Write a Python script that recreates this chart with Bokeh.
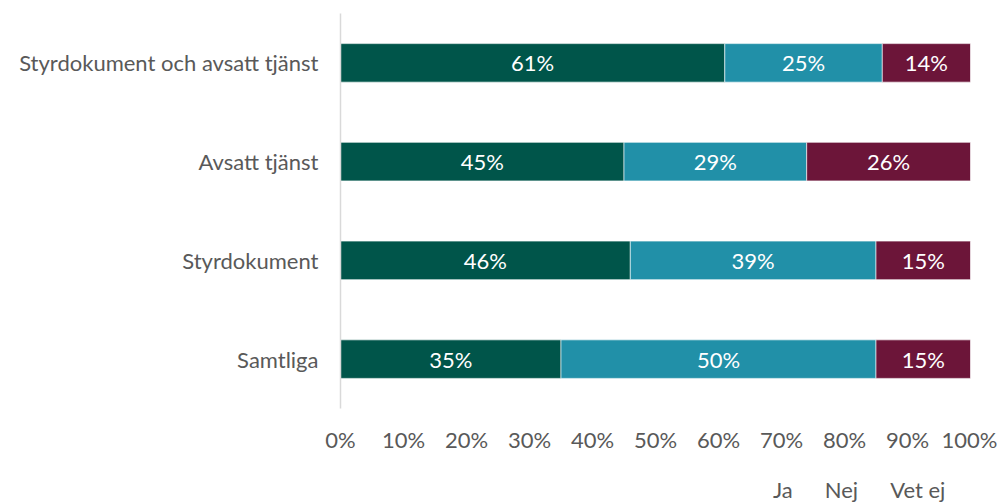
from bokeh.plotting import figure
from bokeh.layouts import column
from bokeh.models import (ColumnDataSource, FactorRange, Range1d, Legend, LegendItem,
                          PrintfTickFormatter, FixedTicker, LabelSet)
from bokeh.core.properties import value
from bokeh.embed import file_html
from bokeh.resources import INLINE

categories = ["Styrdokument och avsatt tjänst", "Avsatt tjänst", "Styrdokument", "Samtliga"]
ja = [61, 45, 46, 35]
nej = [25, 29, 39, 50]
vet_ej = [14, 26, 15, 15]
series_names = ["Ja", "Nej", "Vet ej"]
colors = ["#00554A", "#2190A8", "#6C1539"]
x_ticks = [0, 10, 20, 30, 40, 50, 60, 70, 80, 90, 100]

FONT = "Lato"
TXT = "#595959"
FS = "22px"

p = figure(width=997, height=470, output_backend="svg", toolbar_location=None,
           y_range=FactorRange(factors=categories[::-1], range_padding=0),
           x_range=Range1d(0, 100))
p.min_border_left = 340
p.min_border_right = 27
p.min_border_top = 13
p.min_border_bottom = 62
p.outline_line_color = None
p.background_fill_color = "white"

left1 = [0] * len(ja)
right1 = ja
left2 = ja
right2 = [a + b for a, b in zip(ja, nej)]
left3 = right2
right3 = [a + b + c for a, b, c in zip(ja, nej, vet_ej)]

segments = [(left1, right1, ja), (left2, right2, nej), (left3, right3, vet_ej)]
for (l, r, v), col in zip(segments, colors):
    src = ColumnDataSource(dict(y=categories, left=l, right=r,
                                mid=[(a + b) / 2 for a, b in zip(l, r)],
                                lab=[f"{x}%" for x in v]))
    p.hbar(y="y", left="left", right="right", height=0.39, source=src,
           fill_color=col, line_color="white", line_width=0.6)
    labels = LabelSet(x="mid", y="y", text="lab", source=src, text_align="center",
                      text_baseline="middle", text_color="white", text_font=value(FONT),
                      text_font_size=FS)
    p.add_layout(labels)

p.xgrid.grid_line_color = None
p.ygrid.grid_line_color = None

p.xaxis.ticker = FixedTicker(ticks=x_ticks)
p.xaxis.formatter = PrintfTickFormatter(format="%d%%")
p.xaxis.axis_line_color = None
p.xaxis.major_tick_line_color = None
p.xaxis.minor_tick_line_color = None
p.xaxis.major_label_text_font = FONT
p.xaxis.major_label_text_font_size = FS
p.xaxis.major_label_text_color = TXT
p.xaxis.major_label_standoff = 11

p.yaxis.axis_line_color = "#D9D9D9"
p.yaxis.axis_line_width = 1.5
p.yaxis.major_tick_line_color = None
p.yaxis.minor_tick_line_color = None
p.yaxis.major_label_text_font = FONT
p.yaxis.major_label_text_font_size = FS
p.yaxis.major_label_text_color = TXT
p.yaxis.major_label_standoff = 16

# legend strip under the chart
leg = figure(width=997, height=33, output_backend="svg", toolbar_location=None,
             x_range=Range1d(0, 1), y_range=Range1d(0, 1),
             x_axis_type=None, y_axis_type=None)
leg.min_border_left = 0
leg.min_border_right = 0
leg.min_border_top = 0
leg.min_border_bottom = 0
leg.outline_line_color = None
leg.xgrid.grid_line_color = None
leg.ygrid.grid_line_color = None

leg_renderers = []
for col in colors:
    leg_renderers.append(leg.hbar(y=[], left=[], right=[], height=0.5,
                                  fill_color=col, line_color=col))

legend = Legend(items=[LegendItem(label=n, renderers=[r]) for n, r in zip(series_names, leg_renderers)],
                orientation="horizontal", location=(415, 0),
                border_line_color=None, background_fill_alpha=0,
                glyph_width=15, glyph_height=15,
                label_text_font=FONT, label_text_font_size=FS, label_text_color=TXT,
                spacing=14, padding=0, margin=0, label_standoff=3, label_width=9)
leg.add_layout(legend, "center")

layout = column(p, leg, spacing=0)
open("out.html", "w").write(file_html(layout, INLINE))
